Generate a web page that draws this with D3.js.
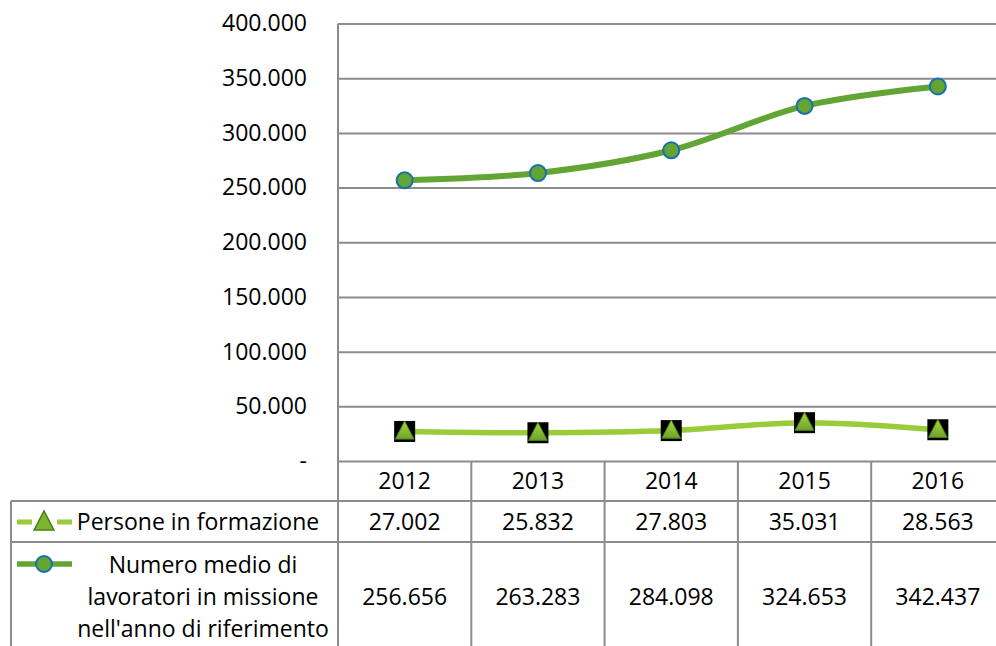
<!DOCTYPE html>
<html><head><meta charset="utf-8">
<script src="https://cdn.jsdelivr.net/npm/d3@7"></script>
<style>body{margin:0;background:#fff}svg{display:block}text{font-family:"Open Sans",Lato,sans-serif;fill:#000}</style>
</head><body><svg id="c" width="996" height="646"></svg>
<script>
const years = ["2012","2013","2014","2015","2016"];
const persone = [27002, 25832, 27803, 35031, 28563];
const lavoratori = [256656, 263283, 284098, 324653, 342437];
const yTicks = [0, 50000, 100000, 150000, 200000, 250000, 300000, 350000, 400000];
const seriesNames = ["Persone in formazione", ["Numero medio di","lavoratori in missione","nell'anno di riferimento"]];

(function(){
const locale = d3.formatLocale({decimal: ",", thousands: ".", grouping: [3], currency: ["€",""]});
const fmt = locale.format(",d");
const tickFmt = v => v === 0 ? "-" : fmt(v);

const svg = d3.select("#c");
const plotLeft = 338, bandW = 133.3, plotTop = 23.5, plotBottom = 461;
const x = d3.scaleBand().domain(years).range([plotLeft, plotLeft + bandW*years.length]);
const y = d3.scaleLinear().domain([0, 400000]).range([plotBottom, plotTop]);
const grid = "#8c8c8c";
const fontSize = 23;

svg.append("g").attr("transform", `translate(${plotLeft},0)`)
  .call(d3.axisLeft(y).tickValues(yTicks).tickSize(-(996-plotLeft+20)).tickFormat(""))
  .call(g => g.select(".domain").remove())
  .call(g => g.selectAll("line").attr("stroke", grid).attr("stroke-width", 2));

svg.append("g").attr("transform", `translate(${plotLeft},0)`)
  .call(d3.axisLeft(y).tickValues(yTicks).tickSize(0).tickPadding(31).tickFormat(tickFmt))
  .call(g => g.select(".domain").remove())
  .call(g => g.selectAll("text").attr("font-size", fontSize).attr("font-family", '"Open Sans",sans-serif').attr("fill", "#000"));

const tbl = svg.append("g").attr("stroke", grid).attr("stroke-width", 2);
tbl.append("line").attr("x1", plotLeft).attr("x2", plotLeft).attr("y1", plotTop).attr("y2", 646);
years.slice(1).forEach(yr => {
  tbl.append("line").attr("x1", x(yr)).attr("x2", x(yr)).attr("y1", plotBottom).attr("y2", 646);
});
[501, 542].forEach(yy => tbl.append("line").attr("x1", 11).attr("x2", 996).attr("y1", yy).attr("y2", yy));
tbl.append("line").attr("x1", 11).attr("x2", 11).attr("y1", 501).attr("y2", 646);

svg.append("g").selectAll("text").data(years).join("text")
  .attr("x", d => x(d) + bandW/2).attr("y", 481).attr("dy", "0.35em")
  .attr("text-anchor", "middle").attr("font-size", fontSize).text(d => d);

svg.append("g").selectAll("text").data(persone).join("text")
  .attr("x", (d,i) => x(years[i]) + bandW/2).attr("y", 522).attr("dy", "0.35em")
  .attr("text-anchor", "middle").attr("font-size", fontSize).text(fmt);
svg.append("g").selectAll("text").data(lavoratori).join("text")
  .attr("x", (d,i) => x(years[i]) + bandW/2).attr("y", 597).attr("dy", "0.35em")
  .attr("text-anchor", "middle").attr("font-size", fontSize).text(fmt);

svg.append("text").attr("x", 198).attr("y", 522).attr("dy", "0.35em").attr("text-anchor", "middle")
  .attr("font-size", fontSize).text(seriesNames[0]);
seriesNames[1].forEach((t, i) => {
  svg.append("text").attr("x", 203).attr("y", 565 + i*32).attr("dy", "0.35em").attr("text-anchor", "middle")
    .attr("font-size", fontSize).text(t);
});

const defs = svg.append("defs");
const gr = defs.append("linearGradient").attr("id", "tg").attr("x1", 0).attr("y1", 0).attr("x2", 0).attr("y2", 1);
gr.append("stop").attr("offset", "0%").attr("stop-color", "#a6d83e");
gr.append("stop").attr("offset", "100%").attr("stop-color", "#6ea22a");

const light = "#9acb38", dark = "#62a534", circleStroke = "#1a6fae";
const line = d3.line().x((d,i) => x(years[i]) + bandW/2).y(d => y(d)).curve(d3.curveCatmullRom.alpha(0));

svg.append("path").datum(lavoratori).attr("d", line).attr("fill", "none").attr("stroke", dark).attr("stroke-width", 6);
svg.append("g").selectAll("circle").data(lavoratori).join("circle")
  .attr("cx", (d,i) => x(years[i]) + bandW/2).attr("cy", d => y(d)).attr("r", 8)
  .attr("fill", dark).attr("stroke", circleStroke).attr("stroke-width", 2);

svg.append("path").datum(persone).attr("d", line).attr("fill", "none").attr("stroke", light).attr("stroke-width", 5.5);
const tri = (cx, cy, s) => `M${cx},${cy - s*0.62}L${cx + s*0.55},${cy + s*0.45}L${cx - s*0.55},${cy + s*0.45}Z`;
const mk = svg.append("g").selectAll("g").data(persone).join("g");
mk.append("rect").attr("x", (d,i) => x(years[i]) + bandW/2 - 10.5).attr("y", d => y(d) - 10.5)
  .attr("width", 21).attr("height", 21).attr("fill", "#000");
mk.append("path").attr("d", (d,i) => tri(x(years[i]) + bandW/2, y(d), 17))
  .attr("fill", "url(#tg)").attr("stroke", "#4d7f1c").attr("stroke-width", 1);

svg.append("line").attr("x1", 17).attr("x2", 72).attr("y1", 522).attr("y2", 522)
  .attr("stroke", light).attr("stroke-width", 5).attr("stroke-dasharray", "15,25");
svg.append("path").attr("d", tri(44, 522, 18)).attr("fill", "#7cb52e").attr("stroke", "#4d7f1c").attr("stroke-width", 1.5);
svg.append("line").attr("x1", 17).attr("x2", 72).attr("y1", 564).attr("y2", 564)
  .attr("stroke", dark).attr("stroke-width", 5.5);
svg.append("circle").attr("cx", 44).attr("cy", 564).attr("r", 8).attr("fill", dark).attr("stroke", circleStroke).attr("stroke-width", 2);
})();
</script></body></html>
